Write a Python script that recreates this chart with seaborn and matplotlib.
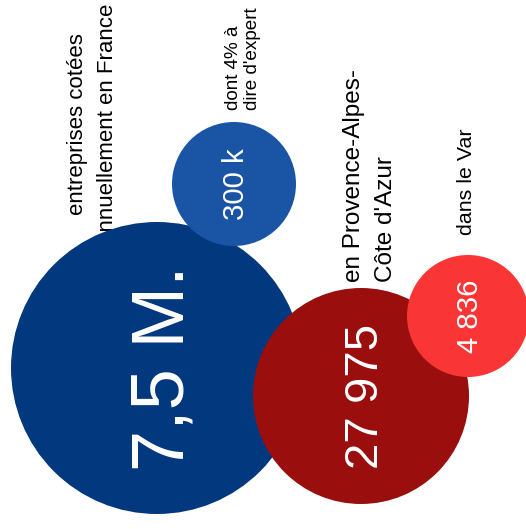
import matplotlib
matplotlib.use("Agg")
import matplotlib.pyplot as plt
import seaborn as sns
import pandas as pd

# Figures shown in the bubbles
values = [7_500_000, 300_000, 27_975, 4_836]
value_labels = ["7,5 M.", "300 k", "27 975", "4 836"]
captions = [
    ["entreprises cotées", "annuellement en France"],
    ["dont 4% à", "dire d'expert"],
    ["en Provence-Alpes-", "Côte d'Azur"],
    ["dans le Var"],
]

# Layout (pixel space of the canvas): bubble centres and radii
centres_x = [157, 234, 361, 468]
centres_y = [368, 184, 396, 316]
radii = [146, 62, 108, 61]
colours = ["#02387E", "#1A55A5", "#9A0E0E", "#F93535"]
value_cap_px = [53, 21, 34, 21]   # cap height of the value text, pixels

# Caption placement: baseline x of first line, anchor y, line step, font size, alignment
caption_layout = [
    (83, 124, 30, 16.0, "center"),
    (238, 110, 19, 13.6, "left"),
    (360, 282, 32, 17.5, "left"),
    (472, 235, 0, 15.4, "left"),
]

sns.set_theme(style="white")
plt.rcParams["font.family"] = ["Liberation Sans", "DejaVu Sans"]

W, H, DPI = 526, 529, 100
fig = plt.figure(figsize=(W / DPI, H / DPI), dpi=DPI)
fig.patch.set_facecolor("white")
ax = fig.add_axes([0, 0, 1, 1])
ax.set_axis_off()

df = pd.DataFrame({
    "label": value_labels,
    "value": values,
    "x": centres_x,
    "y": centres_y,
})
# marker area in pt^2 so that the drawn diameter equals 2*r pixels
area = {lab: (2 * r * 72 / DPI) ** 2 for lab, r in zip(value_labels, radii)}
pal = dict(zip(value_labels, colours))

sns.scatterplot(data=df, x="x", y="y", hue="label", size="label",
                sizes=area, palette=pal, hue_order=value_labels,
                size_order=value_labels, linewidth=0, alpha=1,
                legend=False, ax=ax, zorder=2)
ax.set_xlim(0, W)
ax.set_ylim(H, 0)
ax.set_axis_off()

# Values written inside the bubbles, rotated to read upwards
for lab, cx, cy, cap in zip(value_labels, centres_x, centres_y, value_cap_px):
    fs = cap / 0.716 * 72 / DPI
    ax.text(cx + cap / 2, cy, lab, rotation=90, rotation_mode="anchor",
            ha="center", va="baseline", color="white", fontsize=fs, zorder=5)

# Captions beside the bubbles (drawn beneath the bubbles)
for lines, (bx, ay, step, fs, align) in zip(captions, caption_layout):
    for i, line in enumerate(lines):
        ax.text(bx + i * step, ay, line, rotation=90, rotation_mode="anchor",
                ha=align, va="baseline", color="black", fontsize=fs, zorder=1)

fig.savefig("out.png", dpi=DPI, facecolor="white")
